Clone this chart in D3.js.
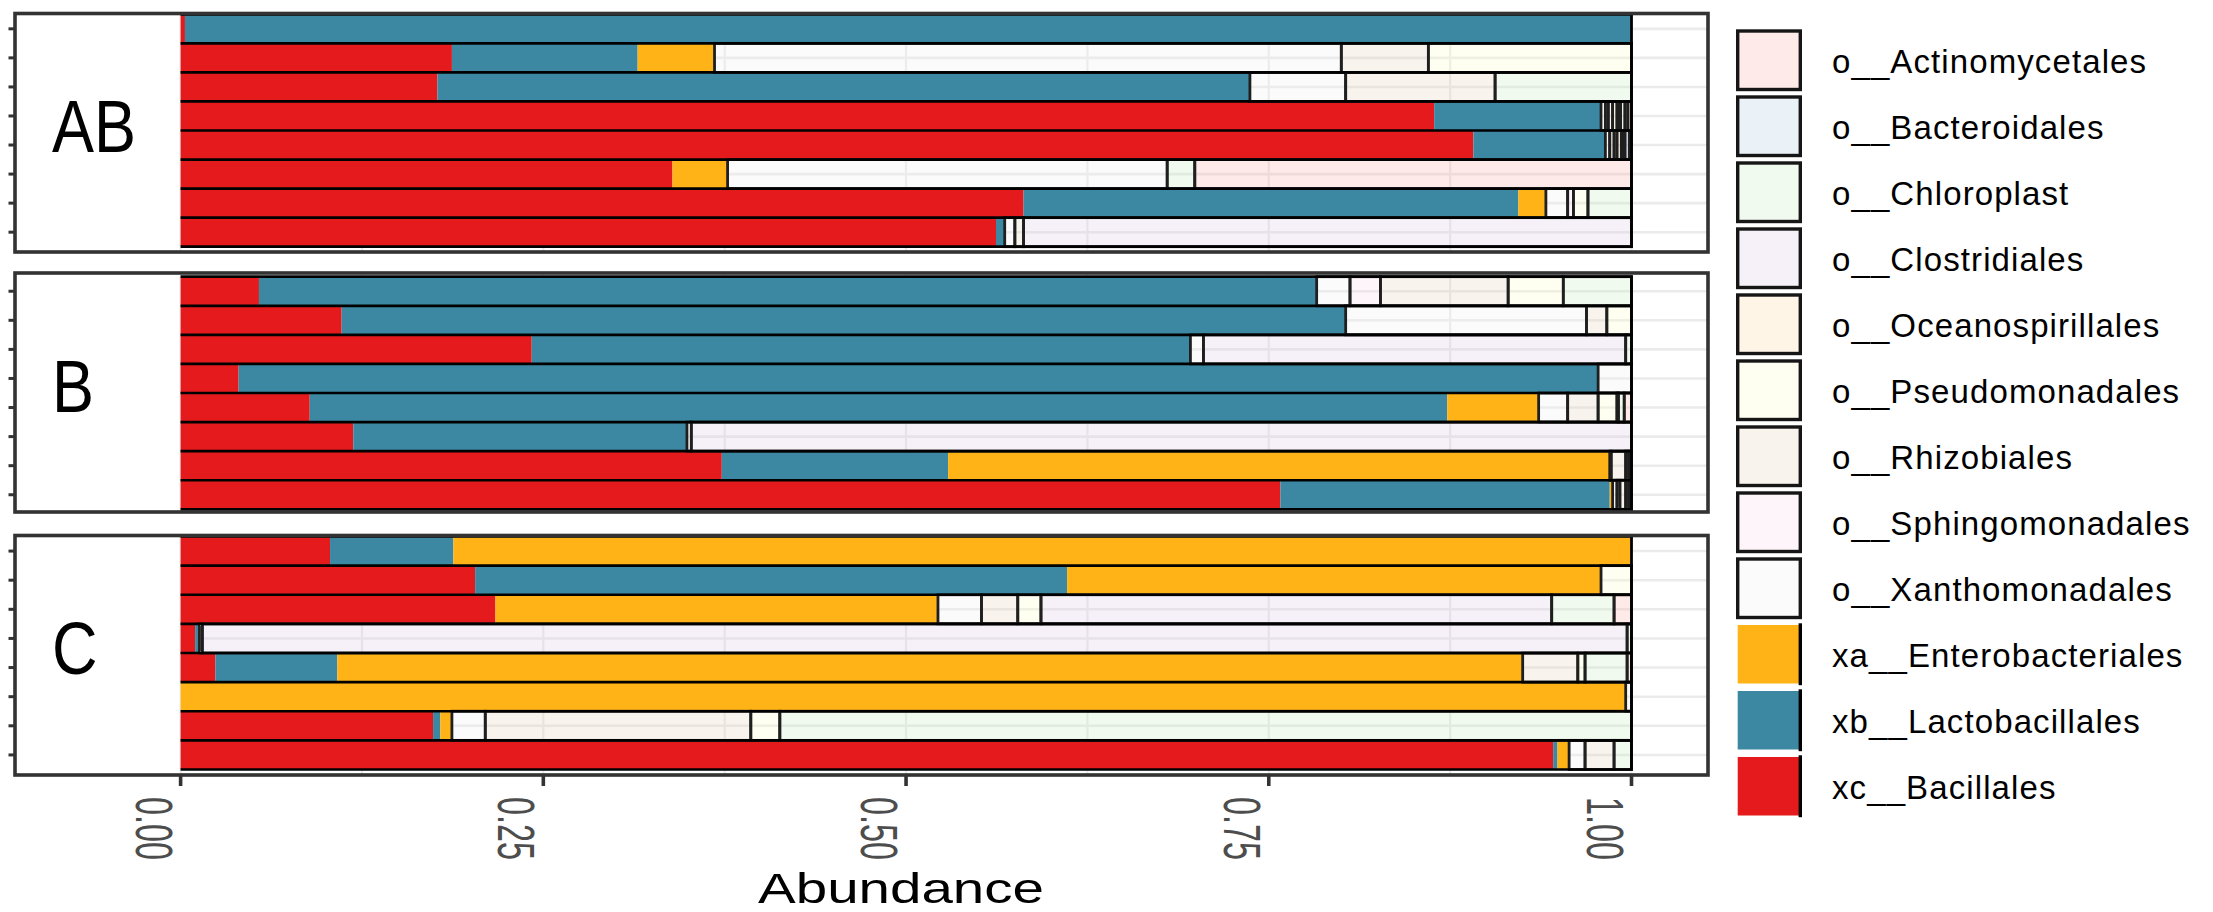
<!DOCTYPE html>
<html>
<head>
<meta charset="utf-8">
<script src="https://cdn.jsdelivr.net/npm/d3@7"></script>
<style>
  html, body { margin: 0; padding: 0; background: #ffffff; }
  svg { display: block; }
</style>
</head>
<body>
<svg id="chart" width="2213" height="912"></svg>
<script>
// ---- data -------------------------------------------------------------
const groups = ["AB", "B", "C"];
const samplesPerGroup = 8;
const samples = groups.flatMap(g => d3.range(1, samplesPerGroup + 1).map(i => g + "-" + i));

// legend order (top to bottom)
const taxa = [
  "o__Actinomycetales", "o__Bacteroidales", "o__Chloroplast", "o__Clostridiales",
  "o__Oceanospirillales", "o__Pseudomonadales", "o__Rhizobiales", "o__Sphingomonadales",
  "o__Xanthomonadales", "xa__Enterobacteriales", "xb__Lactobacillales", "xc__Bacillales"
];

// relative abundance per sample: AB 1-8, B 1-8, C 1-8
const bacillales = [
  0.003, 0.187, 0.177, 0.864, 0.891, 0.339, 0.581, 0.562,
  0.054, 0.111, 0.242, 0.040, 0.089, 0.119, 0.373, 0.758,
  0.103, 0.203, 0.217, 0.010, 0.024, 0.000, 0.174, 0.946
];
const lactobacillales = [
  0.997, 0.128, 0.560, 0.115, 0.091, 0.000, 0.341, 0.006,
  0.729, 0.692, 0.454, 0.937, 0.784, 0.230, 0.156, 0.227,
  0.085, 0.408, 0.000, 0.003, 0.084, 0.000, 0.005, 0.003
];
const enterobacteriales = [
  0.000, 0.053, 0.000, 0.000, 0.000, 0.038, 0.019, 0.000,
  0.000, 0.000, 0.000, 0.000, 0.063, 0.000, 0.456, 0.002,
  0.812, 0.368, 0.305, 0.000, 0.817, 0.996, 0.008, 0.008
];
const xanthomonadales = [
  0.000, 0.432, 0.066, 0.003, 0.003, 0.303, 0.015, 0.007,
  0.023, 0.166, 0.009, 0.023, 0.020, 0.003, 0.001, 0.003,
  0.000, 0.000, 0.030, 0.002, 0.000, 0.004, 0.023, 0.011
];
const sphingomonadales = [
  0.000, 0.000, 0.000, 0.002, 0.000, 0.000, 0.004, 0.000,
  0.021, 0.000, 0.000, 0.000, 0.000, 0.000, 0.000, 0.002,
  0.000, 0.000, 0.000, 0.000, 0.000, 0.000, 0.000, 0.000
];
const rhizobiales = [
  0.000, 0.060, 0.103, 0.003, 0.003, 0.000, 0.000, 0.006,
  0.088, 0.014, 0.000, 0.000, 0.021, 0.000, 0.010, 0.004,
  0.000, 0.000, 0.025, 0.000, 0.038, 0.000, 0.183, 0.020
];
const pseudomonadales = [
  0.000, 0.140, 0.000, 0.003, 0.002, 0.000, 0.010, 0.000,
  0.038, 0.017, 0.000, 0.000, 0.013, 0.000, 0.000, 0.000,
  0.000, 0.021, 0.016, 0.000, 0.005, 0.000, 0.020, 0.000
];
const oceanospirillales = [
  0.000, 0.000, 0.000, 0.001, 0.003, 0.000, 0.000, 0.000,
  0.000, 0.000, 0.000, 0.000, 0.000, 0.000, 0.000, 0.000,
  0.000, 0.000, 0.000, 0.000, 0.000, 0.000, 0.000, 0.000
];
const clostridiales = [
  0.000, 0.000, 0.000, 0.0015, 0.001, 0.000, 0.000, 0.419,
  0.000, 0.000, 0.291, 0.000, 0.001, 0.648, 0.000, 0.000,
  0.000, 0.000, 0.352, 0.982, 0.000, 0.000, 0.000, 0.000
];
const chloroplast = [
  0.000, 0.000, 0.094, 0.003, 0.0015, 0.019, 0.030, 0.000,
  0.047, 0.000, 0.004, 0.000, 0.004, 0.000, 0.002, 0.002,
  0.000, 0.000, 0.043, 0.003, 0.029, 0.000, 0.587, 0.012
];
const bacteroidales = [
  0.000, 0.000, 0.000, 0.002, 0.003, 0.000, 0.000, 0.000,
  0.000, 0.000, 0.000, 0.000, 0.000, 0.000, 0.000, 0.000,
  0.000, 0.000, 0.000, 0.000, 0.000, 0.000, 0.000, 0.000
];
const actinomycetales = [
  0.000, 0.000, 0.000, 0.0025, 0.0015, 0.301, 0.000, 0.000,
  0.000, 0.000, 0.000, 0.000, 0.005, 0.000, 0.002, 0.002,
  0.000, 0.000, 0.012, 0.000, 0.003, 0.000, 0.000, 0.000
];

const xTickValues = [0, 0.25, 0.5, 0.75, 1];
const xTickLabels = ["0.00", "0.25", "0.50", "0.75", "1.00"];
const xTitle = "Abundance";

// ---- lookup tables built from the arrays above -------------------------
const abundance = {
  "xc__Bacillales": bacillales,
  "xb__Lactobacillales": lactobacillales,
  "xa__Enterobacteriales": enterobacteriales,
  "o__Xanthomonadales": xanthomonadales,
  "o__Sphingomonadales": sphingomonadales,
  "o__Rhizobiales": rhizobiales,
  "o__Pseudomonadales": pseudomonadales,
  "o__Oceanospirillales": oceanospirillales,
  "o__Clostridiales": clostridiales,
  "o__Chloroplast": chloroplast,
  "o__Bacteroidales": bacteroidales,
  "o__Actinomycetales": actinomycetales
};
// stacking runs left to right in reverse legend order
const stackOrder = taxa.slice().reverse();

const fillColor = {
  "o__Actinomycetales": "#FBB4AE",
  "o__Bacteroidales": "#B3CDE3",
  "o__Chloroplast": "#CCEBC5",
  "o__Clostridiales": "#DECBE4",
  "o__Oceanospirillales": "#FED9A6",
  "o__Pseudomonadales": "#FFFFCC",
  "o__Rhizobiales": "#E5D8BD",
  "o__Sphingomonadales": "#FDDAEC",
  "o__Xanthomonadales": "#F2F2F2",
  "xa__Enterobacteriales": "#FFB316",
  "xb__Lactobacillales": "#3C88A2",
  "xc__Bacillales": "#E41A1C"
};
const solidTaxa = new Set(["xa__Enterobacteriales", "xb__Lactobacillales", "xc__Bacillales"]);
const paleOpacity = 0.27;

// ---- layout -------------------------------------------------------------
const svg = d3.select("#chart");
const FONT = "'Liberation Sans', Arial, sans-serif";

const panelLeft = 15, panelRight = 1708;
const panelTop = [13.5, 273, 535.5];
const panelBottom = [252, 512, 775];
const barTop = [14.3, 276.7, 536.5];
const barBottom = [246.7, 509.3, 769.5];

const x = d3.scaleLinear().domain([0, 1]).range([180.6, 1631.5]);

const rows = samples.map((s, i) => {
  const r = { sample: s, group: groups[Math.floor(i / samplesPerGroup)] };
  stackOrder.forEach(k => { r[k] = abundance[k][i]; });
  return r;
});
const series = d3.stack().keys(stackOrder)(rows);

groups.forEach((g, gi) => {
  const groupSamples = samples.filter((s, i) => rows[i].group === g);
  const y = d3.scaleBand().domain(groupSamples).range([barTop[gi], barBottom[gi]]).padding(0);
  const panel = svg.append("g").attr("class", "panel panel-" + g);

  // grid
  const grid = panel.append("g").attr("class", "grid");
  grid.selectAll("line.v")
    .data(d3.range(0, 9).map(i => i * 0.125))
    .join("line")
    .attr("class", "v")
    .attr("x1", d => x(d)).attr("x2", d => x(d))
    .attr("y1", panelTop[gi]).attr("y2", panelBottom[gi])
    .attr("stroke", "#EBEBEB").attr("stroke-width", 2.2);
  grid.selectAll("line.h")
    .data(groupSamples)
    .join("line")
    .attr("class", "h")
    .attr("x1", x(0)).attr("x2", panelRight)
    .attr("y1", d => y(d) + y.bandwidth() / 2).attr("y2", d => y(d) + y.bandwidth() / 2)
    .attr("stroke", "#EBEBEB").attr("stroke-width", 2.6);

  // stacked segments
  const segs = [];
  series.forEach(s => {
    s.forEach(d => {
      if (d.data.group === g && d[1] - d[0] > 0) {
        segs.push({ key: s.key, sample: d.data.sample, x0: d[0], x1: d[1] });
      }
    });
  });
  panel.append("g").attr("class", "bars")
    .selectAll("rect")
    .data(segs)
    .join("rect")
    .attr("x", d => x(d.x0))
    .attr("width", d => x(d.x1) - x(d.x0))
    .attr("y", d => y(d.sample))
    .attr("height", y.bandwidth())
    .attr("fill", d => fillColor[d.key])
    .attr("fill-opacity", d => solidTaxa.has(d.key) ? 1 : paleOpacity)
    .attr("stroke", d => solidTaxa.has(d.key) ? "none" : "#1f1f1f")
    .attr("stroke-width", 2.8);

  // bar outlines: row edges and right end
  const outline = panel.append("g").attr("class", "outline");
  outline.selectAll("line.edge")
    .data(d3.range(groupSamples.length + 1))
    .join("line")
    .attr("class", "edge")
    .attr("x1", x(0)).attr("x2", x(1) + 1.3)
    .attr("y1", i => barTop[gi] + i * y.bandwidth())
    .attr("y2", i => barTop[gi] + i * y.bandwidth())
    .attr("stroke", "#000").attr("stroke-width", 2.7);
  outline.append("line")
    .attr("x1", x(1)).attr("x2", x(1))
    .attr("y1", barTop[gi]).attr("y2", barBottom[gi])
    .attr("stroke", "#000").attr("stroke-width", 2.8);

  // facet label
  panel.append("text")
    .attr("transform", `translate(52, ${panelTop[gi] + 138.5}) scale(0.84, 1)`)
    .attr("font-family", FONT)
    .attr("font-size", 75)
    .attr("fill", "#000")
    .text(g);

  // y ticks (blank labels)
  panel.append("g").selectAll("line")
    .data(groupSamples)
    .join("line")
    .attr("x1", 8.5).attr("x2", panelLeft)
    .attr("y1", d => y(d) + y.bandwidth() / 2).attr("y2", d => y(d) + y.bandwidth() / 2)
    .attr("stroke", "#333333").attr("stroke-width", 3);

  // panel border
  panel.append("rect")
    .attr("x", panelLeft).attr("y", panelTop[gi])
    .attr("width", panelRight - panelLeft)
    .attr("height", panelBottom[gi] - panelTop[gi])
    .attr("fill", "none")
    .attr("stroke", "#333333").attr("stroke-width", 3.6);
});

// ---- x axis ------------------------------------------------------------
const axisG = svg.append("g").attr("class", "x-axis");
axisG.selectAll("line")
  .data(xTickValues)
  .join("line")
  .attr("x1", d => x(d)).attr("x2", d => x(d))
  .attr("y1", panelBottom[2]).attr("y2", panelBottom[2] + 11)
  .attr("stroke", "#333333").attr("stroke-width", 3.6);
axisG.selectAll("text")
  .data(xTickValues)
  .join("text")
  .attr("transform", d => `translate(${x(d) - 45}, 797) rotate(90)`)
  .attr("font-family", FONT)
  .attr("font-size", 51)
  .attr("textLength", 63)
  .attr("lengthAdjust", "spacingAndGlyphs")
  .attr("fill", "#4D4D4D")
  .text((d, i) => xTickLabels[i]);

svg.append("text")
  .attr("x", 901).attr("y", 903)
  .attr("text-anchor", "middle")
  .attr("font-family", FONT)
  .attr("font-size", 42)
  .attr("textLength", 286)
  .attr("lengthAdjust", "spacingAndGlyphs")
  .attr("fill", "#000")
  .text(xTitle);

// ---- legend ------------------------------------------------------------
const legend = svg.append("g").attr("class", "legend");
const keyX = 1737.7, keyW = 62.6, keyH = 58.5, keyTop = 31, keyStep = 66;
const items = legend.selectAll("g")
  .data(taxa)
  .join("g")
  .attr("transform", (d, i) => `translate(0, ${keyTop + i * keyStep})`);
items.append("rect")
  .attr("x", keyX).attr("y", 0)
  .attr("width", keyW).attr("height", keyH)
  .attr("fill", d => fillColor[d])
  .attr("fill-opacity", d => solidTaxa.has(d) ? 1 : paleOpacity)
  .attr("stroke", d => solidTaxa.has(d) ? "none" : "#161616")
  .attr("stroke-width", 3.4);
items.filter(d => solidTaxa.has(d)).append("line")
  .attr("x1", keyX + keyW).attr("x2", keyX + keyW)
  .attr("y1", -1.7).attr("y2", keyH + 1.7)
  .attr("stroke", "#000").attr("stroke-width", 3.4);
items.append("text")
  .attr("x", 1832)
  .attr("y", keyH / 2 + 12.5)
  .attr("font-family", FONT)
  .attr("font-size", 33)
  .attr("letter-spacing", 1.1)
  .attr("fill", "#000")
  .text(d => d);
</script>
</body>
</html>
